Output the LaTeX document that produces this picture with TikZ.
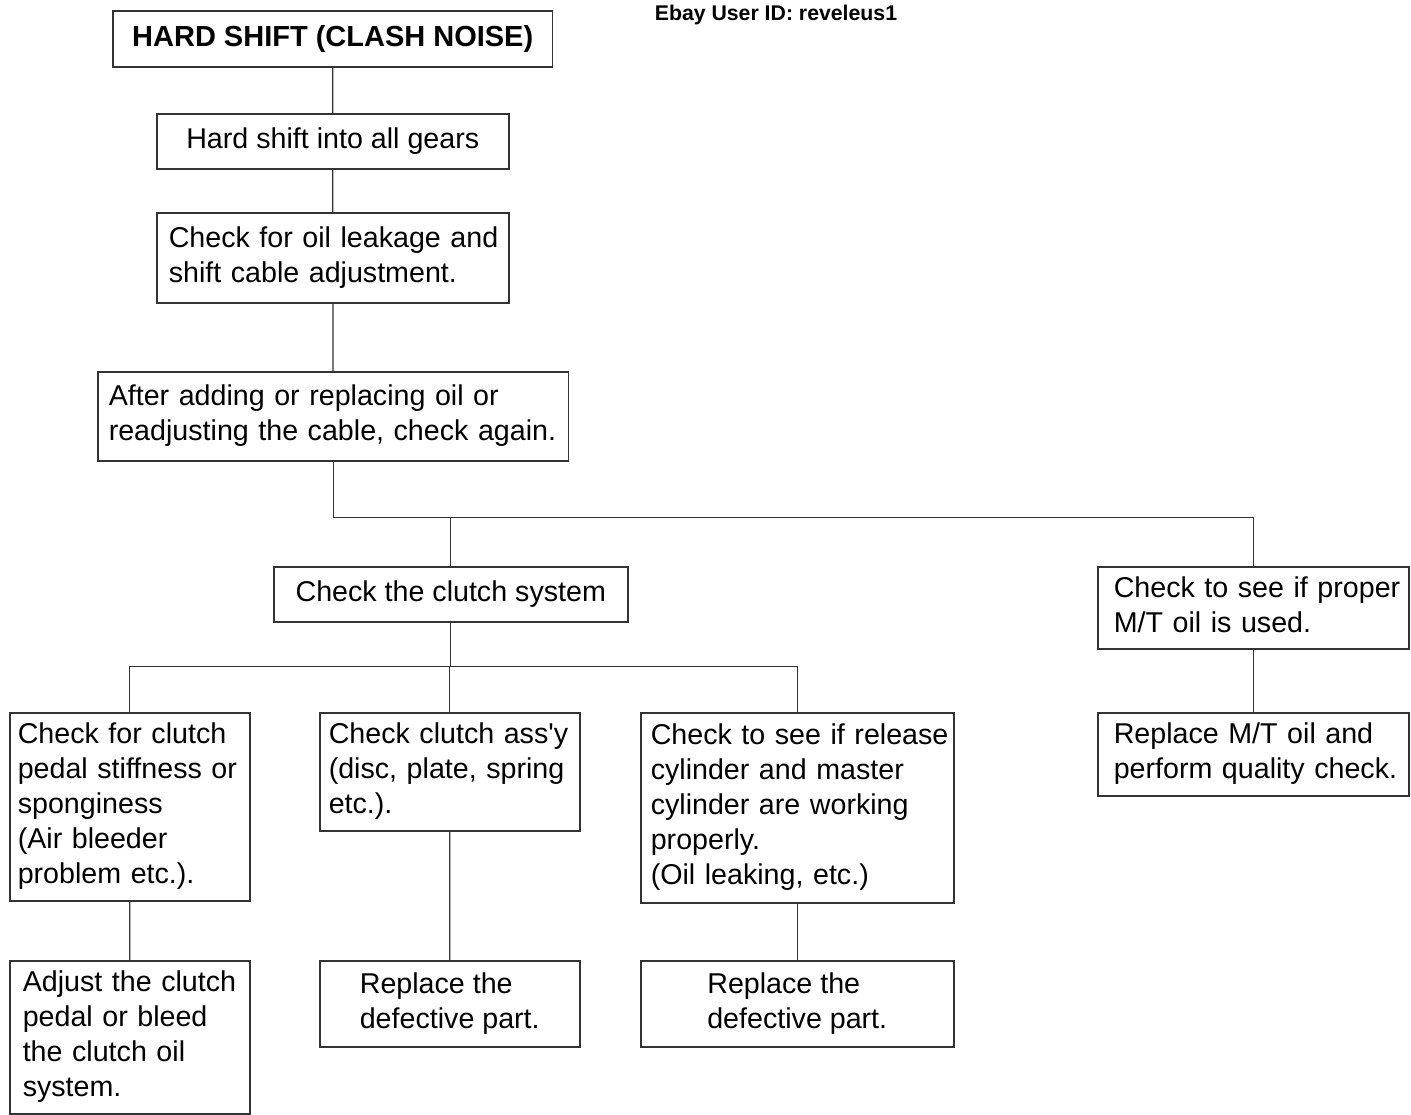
\documentclass[tikz,border=0pt]{standalone}
\usepackage{fontspec}
\setmainfont{Liberation Sans}
\usetikzlibrary{positioning}
\definecolor{lineink}{HTML}{333333}
\newcommand{\boxlines}[1]{\begin{tabular}{@{}l@{}}#1\end{tabular}}

\begin{document}
\begin{tikzpicture}[x=0.02cm, y=-0.02cm,
    font=\fontsize{16.3}{19.9}\selectfont,
    box/.style={draw=lineink, line width=0.9pt, fill=white, anchor=north west,
                inner ysep=2pt},
    cbox/.style={box, align=center},
    lbox/.style={box, align=left, inner xsep=0.2cm},
    link/.style={draw=lineink, line width=0.7pt}
]
\useasboundingbox (0,0) rectangle (1411,1115);
% header
\node[font=\fontsize{12.1}{14}\selectfont\bfseries] (ebay) at (776,15) {Ebay User ID: reveleus1};
% main column
\node[cbox, minimum width=8.8cm, minimum height=1.12cm, font=\fontsize{16.5}{19.9}\selectfont\bfseries] (hard) at (112,10) {HARD SHIFT (CLASH NOISE)};
\node[cbox, minimum width=7.04cm, minimum height=1.1cm] (gears) at (156,113) {Hard shift into all gears};
\node[lbox, text width=6.56cm, inner xsep=0.24cm, minimum height=1.8cm] (leak) at (156,212) {\boxlines{Check for oil leakage and\\shift cable adjustment.}};
\node[lbox, text width=8.98cm, inner xsep=0.22cm, minimum height=1.78cm] (again) at (97,371) {\boxlines{After adding or replacing oil or\\readjusting the cable, check again.}};
% branches
\node[cbox, minimum width=7.08cm, minimum height=1.1cm] (clutch) at (273,566) {Check the clutch system};
\node[lbox, text width=5.58cm, inner xsep=0.32cm, minimum height=1.64cm] (proper) at (1097,566) {\boxlines{Check to see if proper\\M/T oil is used.}};
\node[lbox, text width=5.58cm, inner xsep=0.32cm, minimum height=1.66cm] (mtoil) at (1097,712) {\boxlines{Replace M/T oil and\\perform quality check.}};
\node[lbox, text width=4.48cm, inner xsep=0.16cm, minimum height=3.76cm] (pedal) at (9,712) {\boxlines{Check for clutch\\pedal stiffness or\\sponginess\\(Air bleeder\\problem etc.).}};
\node[lbox, text width=4.84cm, inner xsep=0.18cm, minimum height=2.36cm] (assy) at (319,712) {\boxlines{Check clutch ass\textquotesingle y\\(disc, plate, spring\\etc.).}};
\node[lbox, text width=5.86cm, inner xsep=0.2cm, minimum height=3.8cm] (release) at (640,712) {\boxlines{Check to see if release\\cylinder and master\\cylinder are working\\properly.\\(Oil leaking, etc.)}};
\node[lbox, text width=4.28cm, inner xsep=0.26cm, minimum height=3.06cm] (adjust) at (9,960) {\boxlines{Adjust the clutch\\pedal or bleed\\the clutch oil\\system.}};
\node[cbox, align=left, minimum width=5.2cm, minimum height=1.72cm] (partA) at (319,960) {Replace the\\defective part.};
\node[cbox, align=left, minimum width=6.26cm, minimum height=1.72cm] (partB) at (640,960) {Replace the\\defective part.};
% junctions
\coordinate (split) at ([yshift=-1.12cm]again.south);
\coordinate (fork) at ([yshift=-0.88cm]clutch.south);
\foreach \a/\b in {hard/gears,gears/leak,leak/again,pedal/adjust,assy/partA,release/partB,proper/mtoil}
    \draw[link] (\a) -- (\b);
\draw[link] (again.south) -- (split) -| (proper.north);
\draw[link] (split) -| (clutch.north);
\draw[link] (clutch.south) -- (fork);
\foreach \c in {pedal,assy,release}
    \draw[link] (fork) -| (\c.north);
\end{tikzpicture}
\end{document}
